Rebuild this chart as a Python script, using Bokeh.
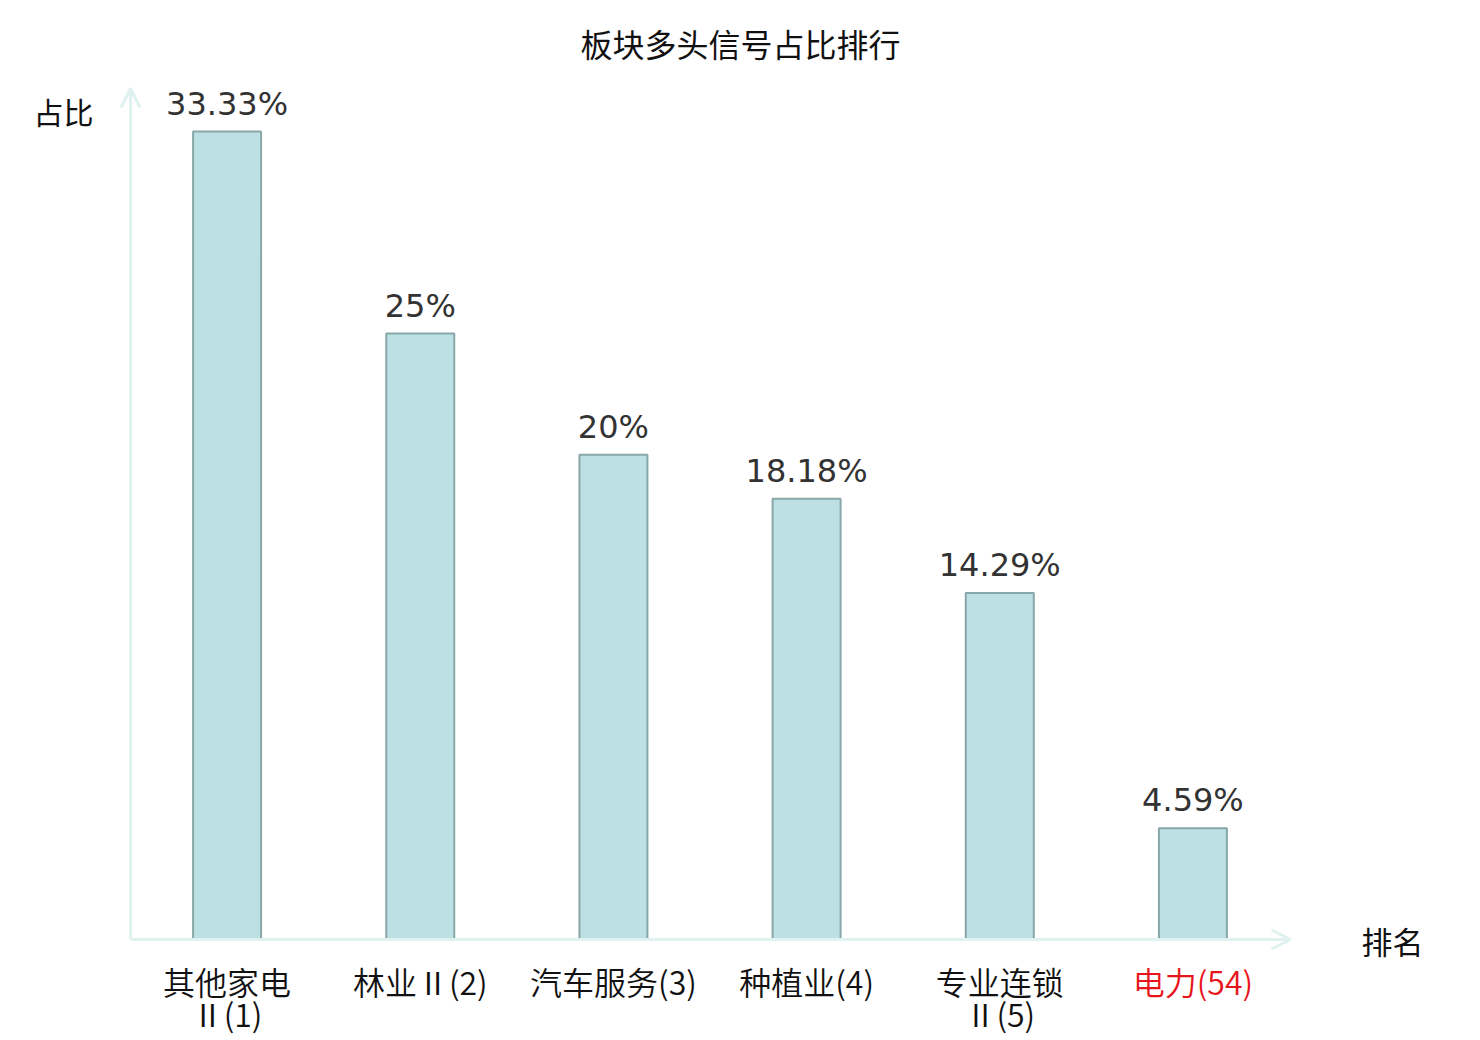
from bokeh.plotting import figure
from bokeh.models import ColumnDataSource, Range1d, Arrow, OpenHead
from bokeh.core.properties import value
from bokeh.embed import file_html
from bokeh.resources import INLINE

# ---- data ----
categories = ["其他家电\nⅡ(1)", "林业Ⅱ(2)", "汽车服务(3)", "种植业(4)", "专业连锁\nⅡ(5)", "电力(54)"]
ratios = [33.33, 25, 20, 18.18, 14.29, 4.59]
value_labels = ["33.33%", "25%", "20%", "18.18%", "14.29%", "4.59%"]
highlight = "电力(54)"
title_text = "板块多头信号占比排行"
y_name = "占比"
x_name = "排名"

# ---- layout ----
W, H = 1472, 1038
SX = 193.17   # px per category
SY = 24.24    # px per percent
left_px, base_px = 130, 939   # axis origin within canvas

xs = [i + 0.5 for i in range(len(categories))]
colors = ["#e8141c" if c == highlight else "#111111" for c in categories]
line1 = [c.split("\n")[0] for c in categories]
line2 = [c.split("\n")[1] if "\n" in c else "" for c in categories]
src = ColumnDataSource(dict(x=xs, top=ratios, l1=line1, l2=line2, lab=value_labels, col=colors))

p = figure(width=W, height=H, output_backend="svg", toolbar_location=None,
           x_range=Range1d(-left_px / SX, (W - left_px) / SX),
           y_range=Range1d(-(H - base_px) / SY, base_px / SY),
           min_border=0, outline_line_color=None)
p.axis.visible = False
p.grid.visible = False

axis_col = "#dff2ef"
p.add_layout(Arrow(x_start=0, y_start=0, x_end=0, y_end=(base_px - 88) / SY,
                   line_color=axis_col, line_width=3,
                   end=OpenHead(size=19, line_color=axis_col, line_width=3)))
p.add_layout(Arrow(x_start=0, y_start=0, x_end=(1290 - left_px) / SX, y_end=0,
                   line_color=axis_col, line_width=3,
                   end=OpenHead(size=19, line_color=axis_col, line_width=3)))

p.vbar(x="x", top="top", bottom=0, width=68 / SX, source=src,
       fill_color="#bce0e3", line_color="#88a7a8", line_width=2)

p.text(x="x", y="top", text="lab", source=src, text_align="center",
       text_baseline="alphabetic", y_offset=-28, text_font=value("DejaVu Sans"),
       text_font_size="32px", text_color="#333333")

cat_font = value("Noto Sans CJK SC DemiLight")
p.text(x="x", y=0, text="l1", source=src, text_align="center",
       text_baseline="middle", y_offset=41, text_font=cat_font,
       text_font_size="32px", text_color="col")
p.text(x="x", y=0, text="l2", source=src, text_align="center",
       text_baseline="middle", y_offset=73, text_font=cat_font,
       text_font_size="32px", text_color="col")

def place(tx, px, py, size):
    p.text(x=[(px - left_px) / SX], y=[(base_px - py) / SY], text=[tx],
           text_align="center", text_baseline="middle", text_font=value("Noto Sans CJK SC"),
           text_font_size=size, text_color="#111111")

place(title_text, 740, 42, "32px")
place(y_name, 63, 110, "30px")
place(x_name, 1392, 940, "31px")

open("out.html", "w").write(file_html(p, INLINE))
